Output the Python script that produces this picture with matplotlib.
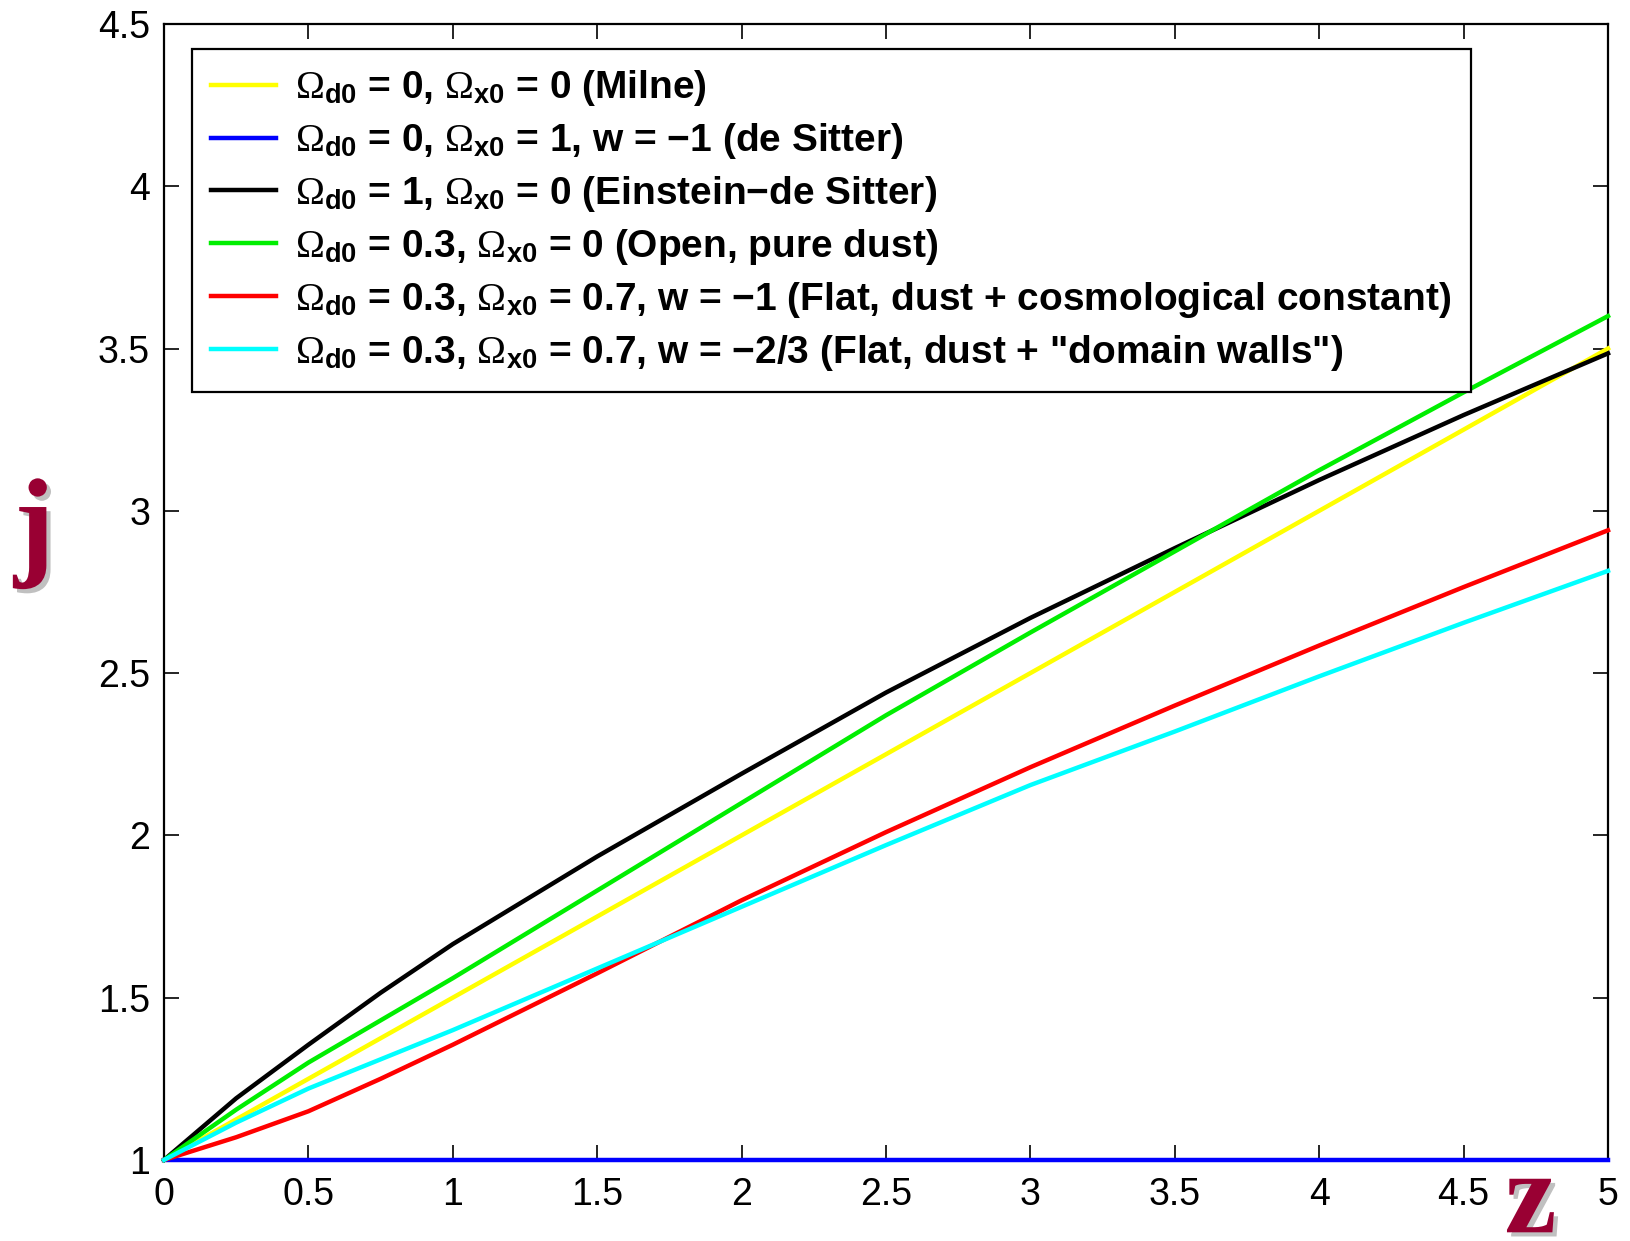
import matplotlib
matplotlib.use('agg')
import matplotlib.pyplot as plt
import matplotlib.patheffects as pe
import numpy as np

plt.rcParams['font.family'] = ['Liberation Sans', 'DejaVu Sans']
plt.rcParams['mathtext.fontset'] = 'custom'
plt.rcParams['mathtext.rm'] = 'Liberation Serif'
plt.rcParams['mathtext.it'] = 'Liberation Serif:italic'
plt.rcParams['mathtext.bf'] = 'Liberation Sans:bold'

# redshift samples
z = [0, 0.25, 0.5, 0.75, 1, 1.5, 2, 2.5, 3, 3.5, 4, 4.5, 5]

j_milne = [1.0, 1.125, 1.25, 1.375, 1.5, 1.75, 2.0, 2.25, 2.5, 2.75, 3.0, 3.25, 3.5]
j_desitter = [1.0] * 13
j_eds = [1.0, 1.19, 1.355, 1.515, 1.665, 1.935, 2.19, 2.44, 2.67, 2.885, 3.095, 3.295, 3.485]
j_open = [1.0, 1.155, 1.30, 1.43, 1.56, 1.83, 2.10, 2.37, 2.625, 2.875, 3.125, 3.365, 3.60]
j_flat_lambda = [1.0, 1.07, 1.15, 1.25, 1.355, 1.575, 1.80, 2.01, 2.21, 2.40, 2.585, 2.765, 2.94]
j_flat_walls = [1.0, 1.115, 1.22, 1.31, 1.40, 1.59, 1.78, 1.97, 2.155, 2.32, 2.49, 2.655, 2.815]

labels = [
    r'$\Omega_{\mathbf{d0}}$ = 0, $\Omega_{\mathbf{x0}}$ = 0 (Milne)',
    r'$\Omega_{\mathbf{d0}}$ = 0, $\Omega_{\mathbf{x0}}$ = 1, w = −1 (de Sitter)',
    r'$\Omega_{\mathbf{d0}}$ = 1, $\Omega_{\mathbf{x0}}$ = 0 (Einstein−de Sitter)',
    r'$\Omega_{\mathbf{d0}}$ = 0.3, $\Omega_{\mathbf{x0}}$ = 0 (Open, pure dust)',
    r'$\Omega_{\mathbf{d0}}$ = 0.3, $\Omega_{\mathbf{x0}}$ = 0.7, w = −1 (Flat, dust + cosmological constant)',
    r'$\Omega_{\mathbf{d0}}$ = 0.3, $\Omega_{\mathbf{x0}}$ = 0.7, w = −2/3 (Flat, dust + "domain walls")',
]
series = [j_milne, j_desitter, j_eds, j_open, j_flat_lambda, j_flat_walls]
colors = ['#ffff00', '#0000ff', '#000000', '#00ee00', '#ff0000', '#00ffff']

fig = plt.figure(figsize=(16.3, 12.41), dpi=100)
ax = fig.add_axes([0.1006, 0.0653, 0.8859, 0.9154])

for ys, c, lab in zip(series, colors, labels):
    ax.plot(z, ys, color=c, lw=3.2, label=lab, clip_on=False, zorder=3)

ax.set_xlim(0, 5)
ax.set_ylim(1, 4.5)
ax.set_xticks(np.arange(0, 5.01, 0.5))
ax.set_yticks(np.arange(1, 4.51, 0.5))
ax.set_xticklabels(['0', '0.5', '1', '1.5', '2', '2.5', '3', '3.5', '4', '4.5', '5'])
ax.set_yticklabels(['1', '1.5', '2', '2.5', '3', '3.5', '4', '4.5'])
ax.tick_params(direction='in', length=11, width=1.2, labelsize=27,
               top=True, right=True, pad=10)
ax.tick_params(axis='x', pad=12)
for s in ax.spines.values():
    s.set_linewidth(1.6)

leg = ax.legend(loc='upper left', bbox_to_anchor=(0.0194, 0.978), borderaxespad=0,
                fontsize=28, fancybox=False, edgecolor='black', framealpha=1,
                handlelength=1.65, handletextpad=0.5, labelspacing=0.33,
                borderpad=0.5)
leg.get_frame().set_linewidth(1.6)
for t in leg.get_texts():
    t.set_fontweight('bold')
for h in leg.get_lines():
    h.set_linewidth(3.2)

shadow = [pe.SimplePatchShadow(offset=(3, -3), shadow_rgbFace='#c0c0c0', alpha=1), pe.Normal()]
fig.text(0.021, 0.57, 'j', fontsize=88, fontweight='bold', family='Liberation Serif',
         color='#990033', ha='center', va='center', path_effects=shadow)
fig.text(0.939, 0.007, 'z', fontsize=84, fontweight='bold', family='Liberation Serif',
         color='#990033', ha='center', va='baseline', path_effects=shadow)

fig.savefig('out.png', dpi=100)
